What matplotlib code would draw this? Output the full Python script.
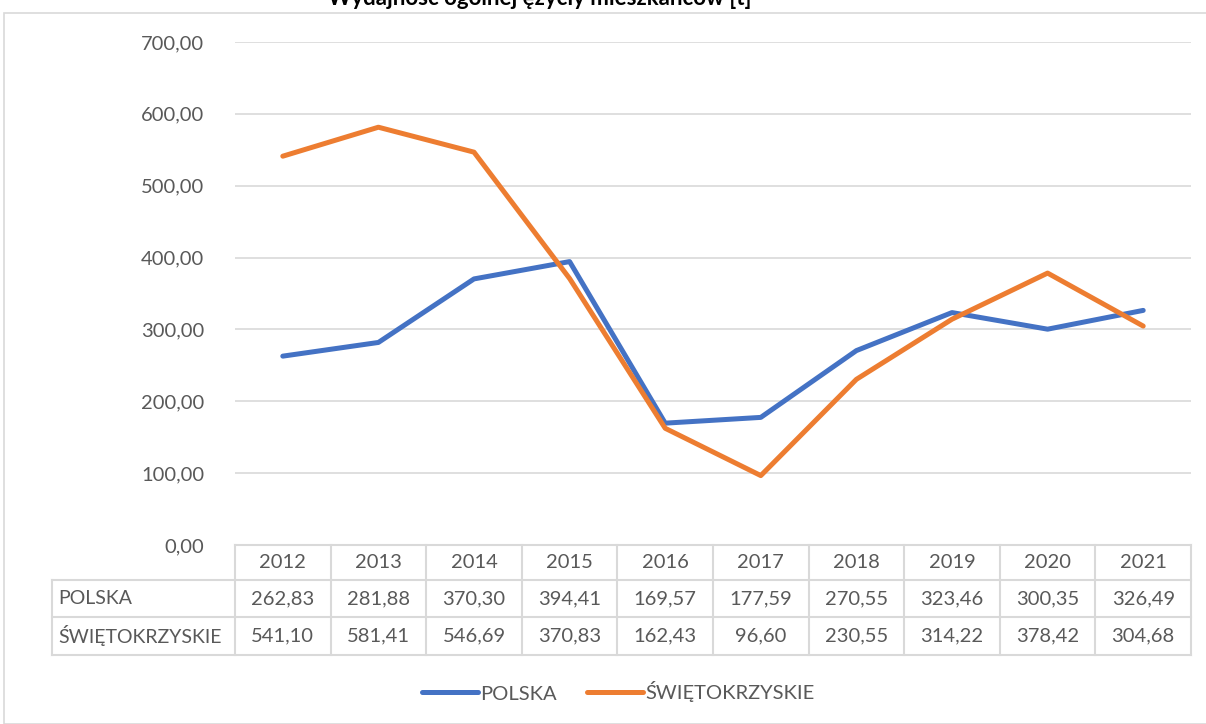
import matplotlib.pyplot as plt
import matplotlib.transforms as mtransforms
from matplotlib.patches import Rectangle
from matplotlib.lines import Line2D
from matplotlib.ticker import FuncFormatter

years = ['2012', '2013', '2014', '2015', '2016', '2017', '2018', '2019', '2020', '2021']
polska = [262.83, 281.88, 370.30, 394.41, 169.57, 177.59, 270.55, 323.46, 300.35, 326.49]
swietokrzyskie = [541.10, 581.41, 546.69, 370.83, 162.43, 96.60, 230.55, 314.22, 378.42, 304.68]
series_names = ['POLSKA', 'ŚWIĘTOKRZYSKIE']

BLUE = '#4472C4'
ORANGE = '#ED7D31'
TXT = '#595959'
GRID = '#d9d9d9'
FS = 14.5
LW = 3.6

plt.rcParams['font.family'] = ['Lato', 'DejaVu Sans']

W, H = 1206, 724
fig = plt.figure(figsize=(W / 100, H / 100), dpi=100)

# outer chart frame (cut at the top/right like the screenshot)
fig.patches.append(Rectangle((4 / W, 0), 1.2, 1 - 13 / H, transform=fig.transFigure,
                             fill=False, edgecolor=GRID, linewidth=1.2))

# title, mostly cut off above the image
fig.text(540 / W, 1 - 5 / H, 'Wydajność ogólnej ęzyciy mieszkańców [t]', ha='center',
         va='baseline', fontsize=16, fontweight='bold', color='black')

left, right, top, bottom = 235, 1191, 42, 545
ax = fig.add_axes([left / W, 1 - bottom / H, (right - left) / W, (bottom - top) / H])

x = list(range(len(years)))
ax.plot(x, polska, color=BLUE, lw=LW, solid_joinstyle='round', solid_capstyle='round', zorder=3)
ax.plot(x, swietokrzyskie, color=ORANGE, lw=LW, solid_joinstyle='round', solid_capstyle='round', zorder=3)

ax.set_xlim(-0.5, len(years) - 0.5)
ax.set_ylim(0, 700)
ax.set_yticks(range(0, 701, 100))
ax.yaxis.set_major_formatter(FuncFormatter(lambda v, p: f'{v:.2f}'.replace('.', ',')))
ax.tick_params(axis='y', length=0, pad=22, labelsize=FS, labelcolor=TXT)
ax.set_xticks([])
ax.grid(axis='y', color=GRID, lw=1.2)
ax.set_axisbelow(True)
for s in ax.spines.values():
    s.set_visible(False)

# data table below the plot
ph = bottom - top
rows_px = [545, 580, 617, 655]
ry = [-(r - bottom) / ph for r in rows_px]
lab_x = -(left - 52) / (right - left)
trans = mtransforms.blended_transform_factory(ax.transData, ax.transAxes)
kw = dict(color=GRID, lw=1.5, clip_on=False)

ax.plot([-0.5, len(years) - 0.5], [ry[0], ry[0]], transform=trans, **kw)
for yy in ry[1:]:
    ax.plot([lab_x, 1], [yy, yy], transform=ax.transAxes, **kw)
for i in range(len(years) + 1):
    ax.plot([i - 0.5, i - 0.5], [ry[0], ry[3]], transform=trans, **kw)
ax.plot([lab_x, lab_x], [ry[1], ry[3]], transform=ax.transAxes, **kw)

def fmt(v):
    return f'{v:.2f}'.replace('.', ',')

for i, yr in enumerate(years):
    ax.text(i, (ry[0] + ry[1]) / 2, yr, transform=trans, ha='center', va='center',
            fontsize=FS, color=TXT)
    ax.text(i, (ry[1] + ry[2]) / 2, fmt(polska[i]), transform=trans, ha='center',
            va='center', fontsize=FS, color=TXT)
    ax.text(i, (ry[2] + ry[3]) / 2, fmt(swietokrzyskie[i]), transform=trans, ha='center',
            va='center', fontsize=FS, color=TXT)

for k, name in enumerate(series_names):
    ax.text(lab_x + 6 / (right - left), (ry[k + 1] + ry[k + 2]) / 2, name,
            transform=ax.transAxes, ha='left', va='center', fontsize=14, color=TXT)

handles = [Line2D([], [], color=BLUE, lw=LW, solid_capstyle='round'),
           Line2D([], [], color=ORANGE, lw=LW, solid_capstyle='round')]
leg = fig.legend(handles, series_names, loc='center', bbox_to_anchor=(618 / W, 1 - 692 / H),
                 ncol=2, frameon=False, fontsize=FS, handlelength=2.8, handletextpad=0.1,
                 columnspacing=1.5)
for t in leg.get_texts():
    t.set_color(TXT)

fig.savefig('out.png', dpi=100)
